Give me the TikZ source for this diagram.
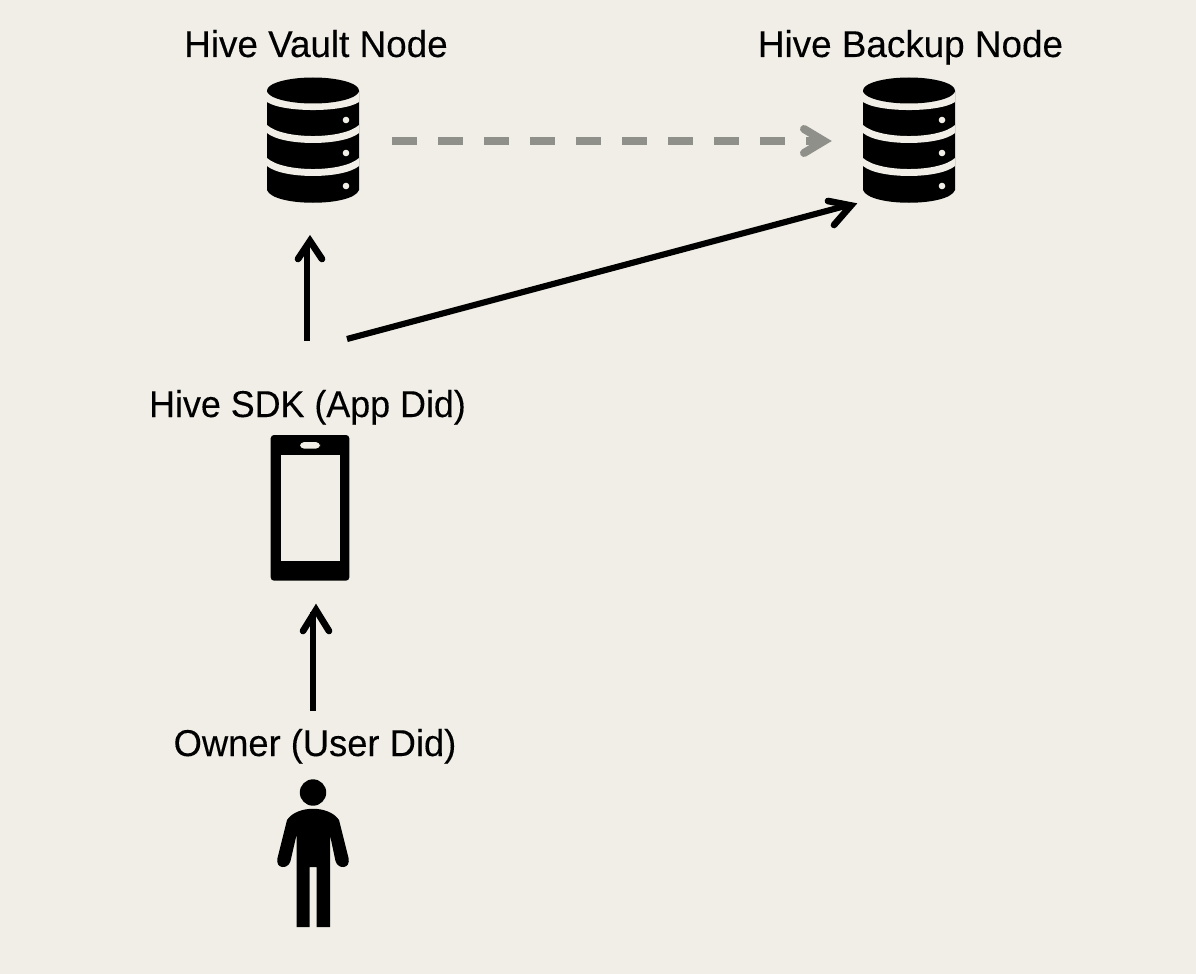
\documentclass[tikz,border=0pt]{standalone}
\usepackage{fontspec}
\setmainfont[FakeStretch=0.96,FakeBold=0.2]{Liberation Sans}
\definecolor{bg}{HTML}{F0EEE6}
\definecolor{grayline}{HTML}{90908A}
\tikzset{
  x=0.75pt,y=-0.75pt,
  lbl/.style={font=\fontsize{28pt}{32pt}\selectfont,text=black,inner sep=0pt,anchor=base},
  widelbl/.style={lbl,xscale=1.028,transform shape},
  conn/.style={line width=4.6pt,line cap=butt},
  barb/.style={line width=5pt,line cap=round,line join=miter},
  grayconn/.style={line width=5.4pt,color=grayline,dash pattern=on 19pt off 15.5pt},
  graybarb/.style={line width=6pt,color=grayline,line cap=round,line join=miter}
}
\newcommand{\dbicon}[2]{%
  \begin{scope}[shift={(#1,#2)}]
    \fill[black] (-46,-49) -- (-46,50) .. controls (-40,67) and (40,67) .. (46,50) -- (46,-49) -- cycle;
    \fill[bg] (-46,-48) .. controls (-30,-33.3) and (30,-33.3) .. (46,-48) -- (46,-38) .. controls (30,-27.3) and (-30,-27.3) .. (-46,-38) -- cycle;
    \fill[bg] (-46,-15) .. controls (-30,-0.3) and (30,-0.3) .. (46,-15) -- (46,-7) .. controls (30,6.3) and (-30,6.3) .. (-46,-7) -- cycle;
    \fill[bg] (-46,18) .. controls (-30,32.7) and (30,32.7) .. (46,18) -- (46,26) .. controls (30,39.3) and (-30,39.3) .. (-46,26) -- cycle;
    \fill[black] (0,-49.5) ellipse [x radius=46,y radius=13];
    \fill[bg] (33,-20) circle (3.3);
    \fill[bg] (33,13) circle (3.3);
    \fill[bg] (33,46) circle (3.3);
  \end{scope}}
\begin{document}
\begin{tikzpicture}
\useasboundingbox[fill=bg] (0,0) rectangle (1196,974);
% labels
\node[widelbl] (vaultlabel) at (316,57) {Hive Vault Node};
\node[widelbl] (backuplabel) at (910.5,57) {Hive Backup Node};
\node[lbl] (sdklabel) at (307.5,417) {Hive SDK (App Did)};
\node[lbl,xscale=1.014,transform shape] (ownerlabel) at (315,756) {Owner (User Did)};
% databases
\dbicon{313}{140}
\dbicon{909}{140}
% phone
\fill[black,rounded corners=2.5] (270.7,435) rectangle (349.3,580.7);
\fill[bg] (280.7,455) rectangle (340,560.7);
\fill[bg,rounded corners=3.2] (300,442) rectangle (320,448.7);
% person
\fill[black] (313,792.5) circle (13.2);
\fill[black] (296.5,927) -- (296.5,835) -- (290.5,861) .. controls (288,870) and (275,869) .. (277.5,858)
  -- (287,820) .. controls (297,805) and (329,805) .. (339,820)
  -- (348.5,858) .. controls (351,869) and (338,870) .. (335.5,861)
  -- (330,835) -- (330,927) -- (316.5,927) -- (316.5,867) -- (309.5,867) -- (309.5,927) -- cycle;
% connector ends
\coordinate (vaultin) at (307,244);
\coordinate (sdkoutA) at (307,341);
\coordinate (sdkoutB) at (347,339);
\coordinate (backupinB) at (849,205);
\coordinate (vaultout) at (392,141);
\coordinate (backupinA) at (822,141);
\coordinate (phonein) at (313,612);
\coordinate (ownerout) at (313,711);
\draw[conn] (sdkoutA) -- (vaultin);
\draw[barb] (298,259) -- (310,241) -- (322,259);
\draw[conn] (sdkoutB) -- (backupinB);
\draw[barb] (828,201) -- (851,205.5) -- (834,225);
\draw[conn,line width=5pt] (ownerout) -- (phonein);
\draw[barb] (303,631) -- (316,610) -- (329,631);
\draw[grayconn] (vaultout) -- (backupinA);
\draw[graybarb] (804,129) -- (824,141) -- (804,153);
\end{tikzpicture}
\end{document}
